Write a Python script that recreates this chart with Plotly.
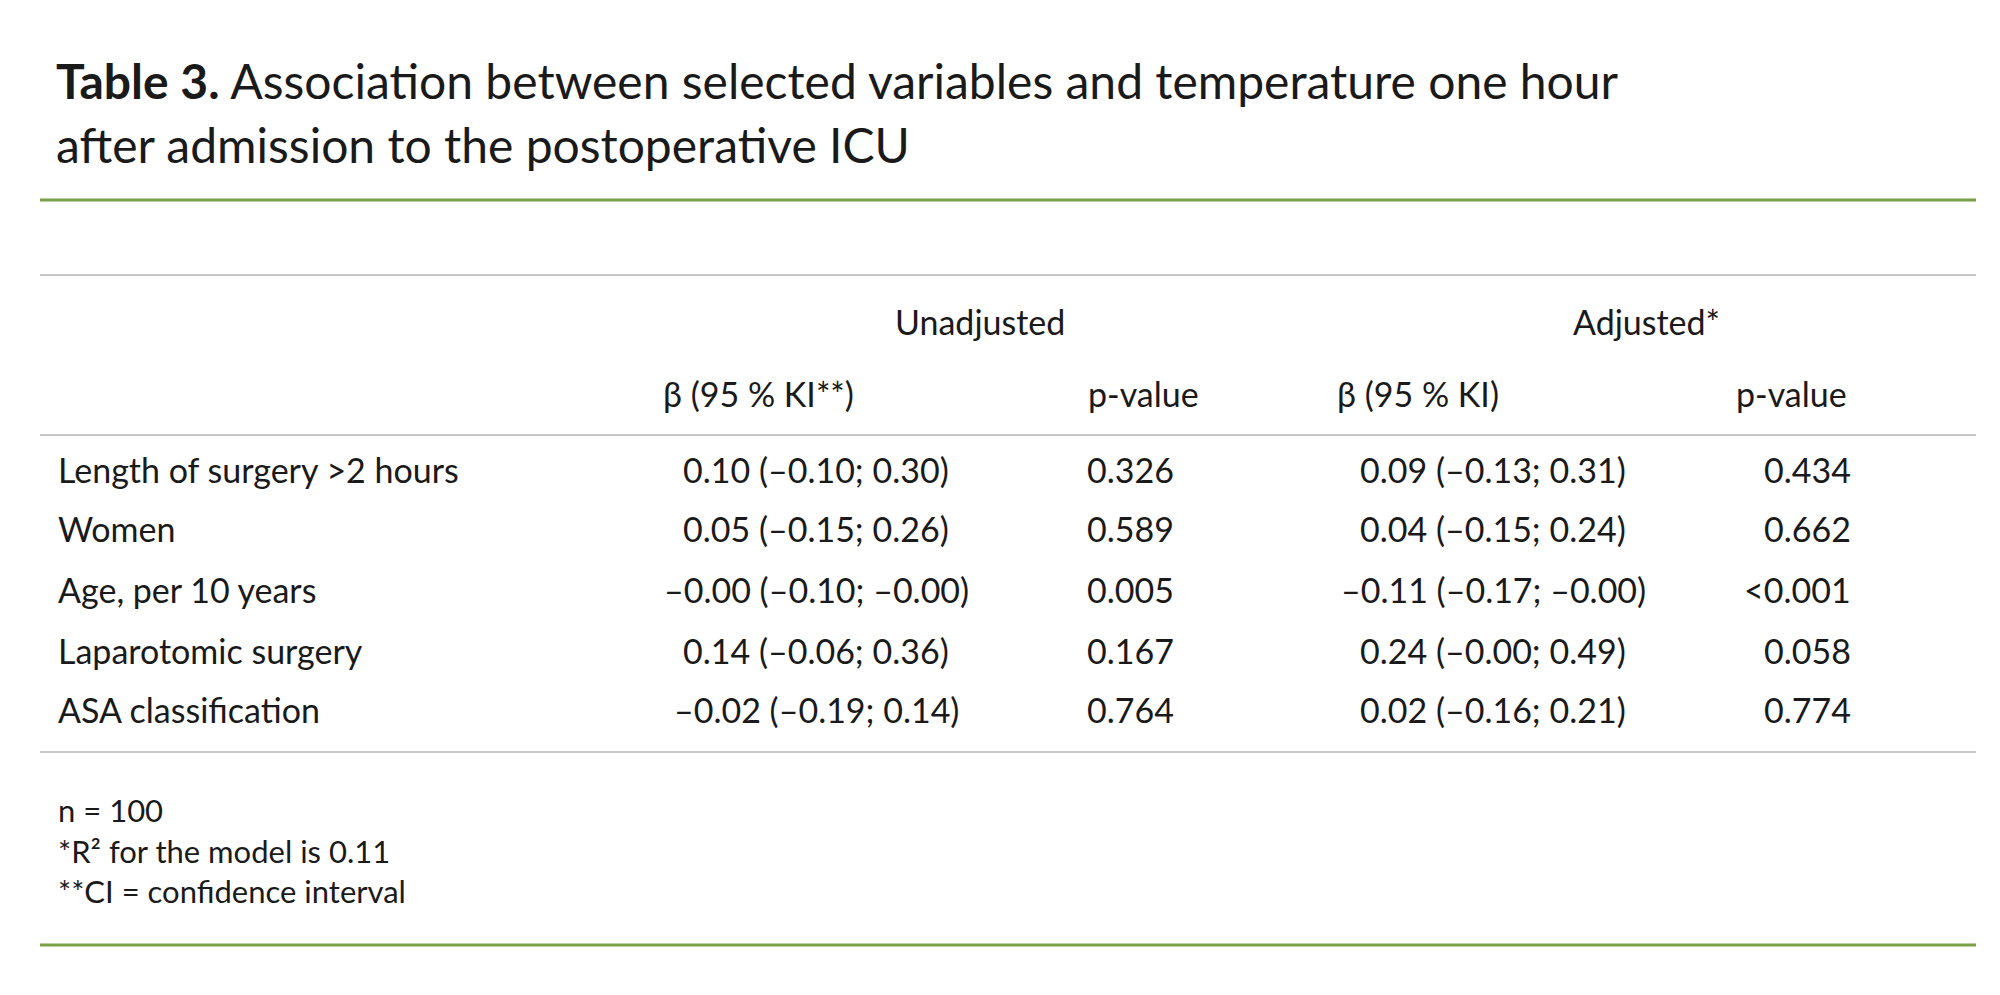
import plotly.graph_objects as go

W, H = 2000, 995

title_lines = ["<b>Table 3.</b> Association between selected variables and temperature one hour",
               "after admission to the postoperative ICU"]
groups = ["Unadjusted", "Adjusted*"]
sub_headers = ["β (95 % KI**)", "p-value", "β (95 % KI)", "p-value"]
variables = ["Length of surgery >2 hours", "Women", "Age, per 10 years",
             "Laparotomic surgery", "ASA classification"]
beta_unadj = ["0.10 (–0.10; 0.30)", "0.05 (–0.15; 0.26)", "–0.00 (–0.10; –0.00)",
              "0.14 (–0.06; 0.36)", "–0.02 (–0.19; 0.14)"]
p_unadj = ["0.326", "0.589", "0.005", "0.167", "0.764"]
beta_adj = ["0.09 (–0.13; 0.31)", "0.04 (–0.15; 0.24)", "–0.11 (–0.17; –0.00)",
            "0.24 (–0.00; 0.49)", "0.02 (–0.16; 0.21)"]
p_adj = ["0.434", "0.662", "<0.001", "0.058", "0.774"]
footnotes = ["n = 100", "*R² for the model is 0.11", "**CI = confidence interval"]

FONT = "Lato, Carlito, sans-serif"
GREEN = "#78a046"
GRAY = "#b4b4b4"
TXT = "#1a1a1a"
DY = -7

fig = go.Figure()
ann = []
shapes = []


def text(x, y, s, size=34, anchor="left"):
    ann.append(dict(x=x / W, y=1 - (y + DY) / H, xref="paper", yref="paper", text=s,
                    showarrow=False, xanchor=anchor, yanchor="middle",
                    font=dict(family=FONT, size=size, color=TXT)))


def hline(y, color, width):
    shapes.append(dict(type="line", xref="paper", yref="paper", x0=32 / W, x1=1968 / W,
                       y0=1 - (y + DY) / H, y1=1 - (y + DY) / H,
                       line=dict(color=color, width=width)))


text(46, 80, title_lines[0], size=48)
text(46, 143, title_lines[1], size=48)
hline(199, GREEN, 3)
hline(274, GRAY, 1.5)
text(972, 320, groups[0], anchor="center")
text(1638, 320, groups[1], anchor="center")
text(653, 392, sub_headers[0])
text(1078, 392, sub_headers[1])
text(1327, 392, sub_headers[2])
text(1726, 392, sub_headers[3])
hline(434, GRAY, 1.5)

row_y = [468, 527, 588, 649, 708]
for i, y in enumerate(row_y):
    text(48, y, variables[i])
    text(808, y, beta_unadj[i], anchor="center")
    text(1122, y, p_unadj[i], anchor="center")
    text(1485, y, beta_adj[i], anchor="center")
    text(1845, y, p_adj[i], anchor="right")

hline(751, GRAY, 1.5)
for s, y in zip(footnotes, [809, 850, 890]):
    text(48, y, s, size=31)
hline(944, GREEN, 3)

fig.update_layout(width=W, height=H, margin=dict(l=0, r=0, t=0, b=0),
                  paper_bgcolor="white", plot_bgcolor="white",
                  xaxis=dict(visible=False), yaxis=dict(visible=False),
                  annotations=ann, shapes=shapes)
fig.write_html("out.html")
